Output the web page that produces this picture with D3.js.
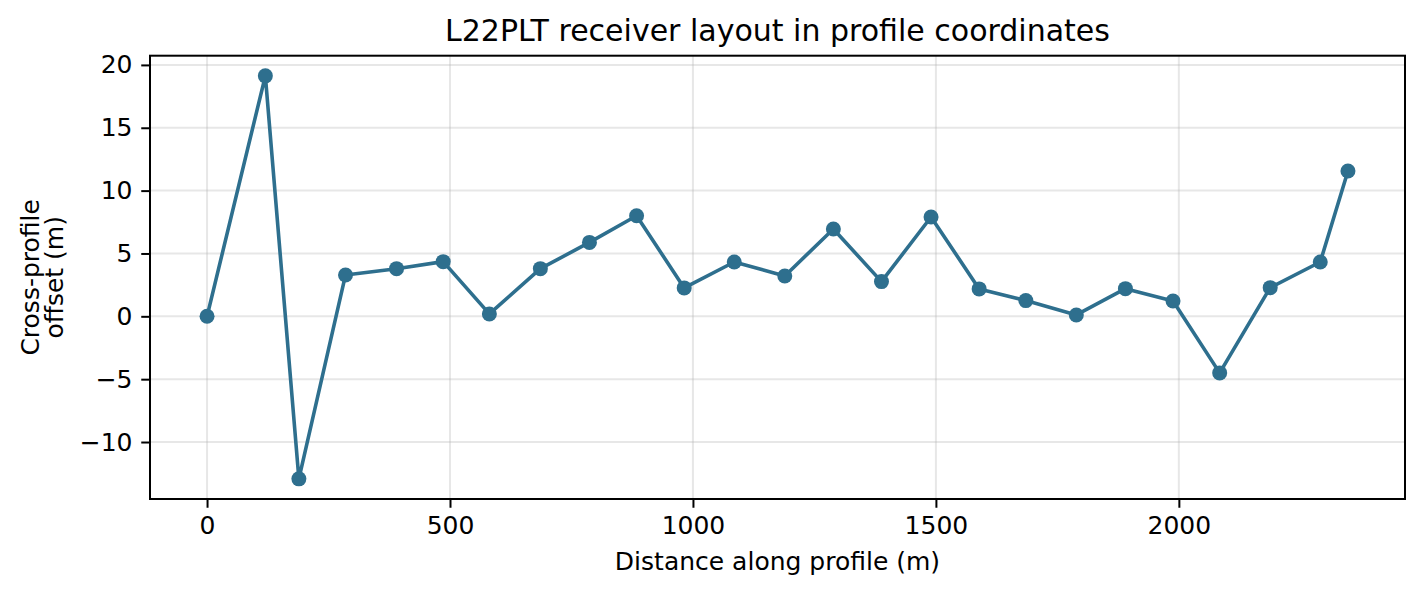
<!DOCTYPE html>
<html>
<head>
<meta charset="utf-8">
<script src="https://cdn.jsdelivr.net/npm/d3@7"></script>
<style>
  html, body { margin: 0; padding: 0; background: #fff; }
  svg { display: block; font-family: "DejaVu Sans", sans-serif; }
</style>
</head>
<body>
<svg id="chart" width="1423" height="593"></svg>
<script>
const distance = [0, 120, 189, 285, 390, 486, 581, 686, 787, 884, 982, 1085, 1189, 1289, 1388, 1490, 1589, 1685, 1789, 1890, 1988, 2084, 2188, 2291, 2348];
const offset = [0, 19.13, -12.93, 3.29, 3.79, 4.35, 0.19, 3.79, 5.88, 8.0, 2.26, 4.32, 3.21, 6.95, 2.76, 7.9, 2.18, 1.25, 0.11, 2.2, 1.22, -4.5, 2.28, 4.32, 11.56];
const xTicks = [0, 500, 1000, 1500, 2000];
const yTicks = [-10, -5, 0, 5, 10, 15, 20];
const titleText = "L22PLT receiver layout in profile coordinates";
const xLabel = "Distance along profile (m)";
const yLabelLines = ["Cross-profile", "offset (m)"];

const svg = d3.select("#chart");
const m = { left: 150, right: 1405, top: 55.7, bottom: 499 };

const xMin = d3.min(distance), xMax = d3.max(distance);
const yMin = d3.min(offset), yMax = d3.max(offset);
const xPad = (xMax - xMin) * 0.05, yPad = (yMax - yMin) * 0.05;

const x = d3.scaleLinear().domain([xMin - xPad, xMax + xPad]).range([m.left, m.right]);
const y = d3.scaleLinear().domain([yMin - yPad, yMax + yPad]).range([m.bottom, m.top]);

const fmt = d => String(d).replace("-", "\u2212");

// grid
const grid = svg.append("g");
grid.selectAll("line.gx").data(xTicks).enter().append("line")
  .attr("x1", d => x(d)).attr("x2", d => x(d))
  .attr("y1", m.top).attr("y2", m.bottom)
  .attr("stroke", "#b0b0b0").attr("stroke-opacity", 0.3).attr("stroke-width", 2);
grid.selectAll("line.gy").data(yTicks).enter().append("line")
  .attr("y1", d => y(d)).attr("y2", d => y(d))
  .attr("x1", m.left).attr("x2", m.right)
  .attr("stroke", "#b0b0b0").attr("stroke-opacity", 0.3).attr("stroke-width", 2);

// axes
const xAxis = d3.axisBottom(x).tickValues(xTicks).tickSize(8.75).tickPadding(8.75).tickFormat(fmt);
const yAxis = d3.axisLeft(y).tickValues(yTicks).tickSize(8.75).tickPadding(8.75).tickFormat(fmt);

const gx = svg.append("g").attr("transform", `translate(0,${m.bottom})`).call(xAxis);
const gy = svg.append("g").attr("transform", `translate(${m.left},0)`).call(yAxis);
[gx, gy].forEach(g => {
  g.select(".domain").remove();
  g.selectAll(".tick line").attr("stroke", "#000").attr("stroke-width", 2);
  g.selectAll(".tick text").attr("fill", "#000").attr("font-size", 25)
    .attr("font-family", "DejaVu Sans, sans-serif");
});

// line + markers
const line = d3.line().x((d, i) => x(distance[i])).y(d => y(d));
svg.append("path").datum(offset)
  .attr("d", line).attr("fill", "none")
  .attr("stroke", "#2e6f8e").attr("stroke-width", 3.6).attr("stroke-linejoin", "round");
svg.append("g").selectAll("circle").data(offset).enter().append("circle")
  .attr("cx", (d, i) => x(distance[i])).attr("cy", d => y(d))
  .attr("r", 7.5).attr("fill", "#2e6f8e");

// frame
svg.append("rect").attr("x", m.left).attr("y", m.top)
  .attr("width", m.right - m.left).attr("height", m.bottom - m.top)
  .attr("fill", "none").attr("stroke", "#000").attr("stroke-width", 2);

// title & labels
svg.append("text").attr("x", (m.left + m.right) / 2).attr("y", 40.5)
  .attr("text-anchor", "middle").attr("font-size", 30).attr("fill", "#000").text(titleText);
svg.append("text").attr("x", (m.left + m.right) / 2).attr("y", 570)
  .attr("text-anchor", "middle").attr("font-size", 25).attr("fill", "#000").text(xLabel);
const yl = svg.append("text").attr("transform", `translate(0,${(m.top + m.bottom) / 2}) rotate(-90)`)
  .attr("text-anchor", "middle").attr("font-size", 25).attr("fill", "#000");
yl.selectAll("tspan").data(yLabelLines).enter().append("tspan")
  .attr("x", 0).attr("y", (d, i) => 39.3 + i * 24).text(d => d);
</script>
</body>
</html>
